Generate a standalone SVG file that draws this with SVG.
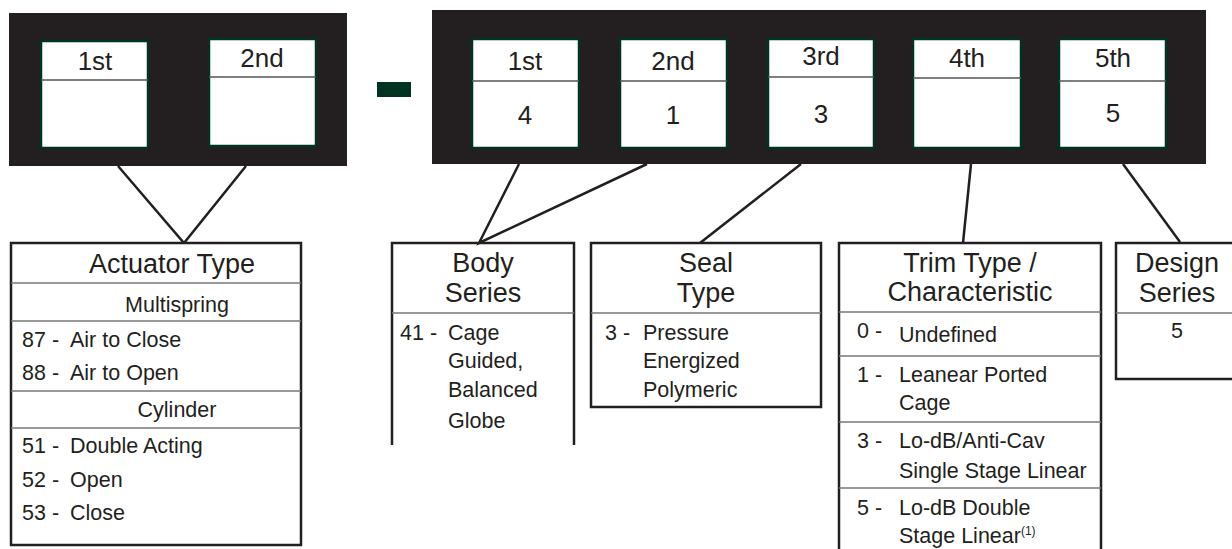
<svg xmlns="http://www.w3.org/2000/svg" width="1232" height="549" viewBox="0 0 1232 549">
<style>
.panel{fill:#231f20}
.cell{fill:#fff;stroke:#003322;stroke-width:2.5}
.div{stroke:#555;stroke-width:1.5}
.box{fill:#fff;stroke:#231f20;stroke-width:2.5}
.open{fill:none;stroke:#231f20;stroke-width:2.5}
.sep{stroke:#777;stroke-width:1.5}
.conn{stroke:#231f20;stroke-width:2.5;fill:none}
text{font-family:"Liberation Sans",Arial,sans-serif;fill:#231f20}
.lab{font-size:26px;text-anchor:middle}
.hdr{font-size:27px;text-anchor:middle}
.row{font-size:21.5px}
.mid{text-anchor:middle}
</style>
<g id="panel-left">
<rect class="panel" x="9" y="13" width="338" height="153"/>
<rect class="cell" x="41" y="41" width="107" height="107"/><line class="div" x1="41" y1="80" x2="148" y2="80"/>
<text class="lab" x="95" y="70">1st</text>
<rect class="cell" x="209" y="39" width="107" height="107"/><line class="div" x1="209" y1="77" x2="316" y2="77"/>
<text class="lab" x="262" y="67">2nd</text>
</g>
<g id="dash"><rect x="377" y="82" width="34" height="15" fill="#003322"/></g>
<g id="panel-right">
<rect class="panel" x="432" y="10" width="774" height="154"/>
<rect class="cell" x="472" y="39" width="107" height="109"/><line class="div" x1="472" y1="81" x2="579" y2="81"/>
<text class="lab" x="525" y="70">1st</text><text class="lab" x="525" y="124">4</text>
<rect class="cell" x="620" y="39" width="107" height="109"/><line class="div" x1="620" y1="81" x2="727" y2="81"/>
<text class="lab" x="673" y="70">2nd</text><text class="lab" x="673" y="124">1</text>
<rect class="cell" x="768" y="39" width="106" height="109"/><line class="div" x1="768" y1="77" x2="874" y2="77"/>
<text class="lab" x="821" y="65">3rd</text><text class="lab" x="821" y="123">3</text>
<rect class="cell" x="913" y="39" width="108" height="109"/><line class="div" x1="913" y1="78" x2="1021" y2="78"/>
<text class="lab" x="967" y="67">4th</text>
<rect class="cell" x="1059" y="39" width="107" height="109"/><line class="div" x1="1059" y1="81" x2="1166" y2="81"/>
<text class="lab" x="1113" y="67">5th</text><text class="lab" x="1113" y="122">5</text>
</g>
<g id="connectors">
<polyline class="conn" points="118,166 184,243 246,166"/>
<polyline class="conn" points="519,164 479,243 647,164"/>
<line class="conn" x1="801" y1="164" x2="700" y2="243"/>
<line class="conn" x1="971" y1="164" x2="963" y2="243"/>
<line class="conn" x1="1123" y1="164" x2="1180" y2="242"/>
</g>
<g id="actuator-type">
<rect class="box" x="11" y="243" width="290" height="302"/>
<line class="sep" x1="11" y1="283" x2="301" y2="283"/>
<line class="sep" x1="11" y1="321" x2="301" y2="321"/>
<line class="sep" x1="11" y1="391" x2="301" y2="391"/>
<line class="sep" x1="11" y1="428" x2="301" y2="428"/>
<text class="hdr" x="172" y="273">Actuator Type</text>
<text class="row mid" x="177" y="312">Multispring</text>
<text class="row" x="22" y="347">87 -</text><text class="row" x="70" y="347">Air to Close</text>
<text class="row" x="22" y="380">88 -</text><text class="row" x="70" y="380">Air to Open</text>
<text class="row mid" x="177" y="417">Cylinder</text>
<text class="row" x="22" y="453">51 -</text><text class="row" x="70" y="453">Double Acting</text>
<text class="row" x="22" y="487">52 -</text><text class="row" x="70" y="487">Open</text>
<text class="row" x="22" y="520">53 -</text><text class="row" x="70" y="520">Close</text>
</g>
<g id="body-series">
<path class="open" d="M392,445 V243 H574 V445" fill="#fff"/>
<line class="sep" x1="392" y1="313" x2="574" y2="313"/>
<text class="hdr" x="483" y="272">Body</text><text class="hdr" x="483" y="302">Series</text>
<text class="row" x="400" y="340">41 -</text><text class="row" x="448" y="340">Cage</text>
<text class="row" x="448" y="368">Guided,</text>
<text class="row" x="448" y="397">Balanced</text>
<text class="row" x="448" y="428">Globe</text>
</g>
<g id="seal-type">
<rect class="box" x="591" y="243" width="230" height="164"/>
<line class="sep" x1="591" y1="313" x2="821" y2="313"/>
<text class="hdr" x="706" y="272">Seal</text><text class="hdr" x="706" y="302">Type</text>
<text class="row" x="605" y="340">3 -</text><text class="row" x="643" y="340">Pressure</text>
<text class="row" x="643" y="368">Energized</text>
<text class="row" x="643" y="397">Polymeric</text>
</g>
<g id="trim-type">
<path class="open" d="M839,552 V243 H1101 V552" fill="#fff"/>
<line class="sep" x1="839" y1="312" x2="1101" y2="312"/>
<line class="sep" x1="839" y1="356" x2="1101" y2="356"/>
<line class="sep" x1="839" y1="422" x2="1101" y2="422"/>
<line class="sep" x1="839" y1="488" x2="1101" y2="488"/>
<text class="hdr" x="970" y="272">Trim Type /</text><text class="hdr" x="970" y="301">Characteristic</text>
<text class="row" x="857" y="338">0 -</text><text class="row" x="899" y="342">Undefined</text>
<text class="row" x="857" y="382">1 -</text><text class="row" x="899" y="382">Leanear Ported</text>
<text class="row" x="899" y="410">Cage</text>
<text class="row" x="857" y="448">3 -</text><text class="row" x="899" y="448">Lo-dB/Anti-Cav</text>
<text class="row" x="899" y="478">Single Stage Linear</text>
<text class="row" x="857" y="515">5 -</text><text class="row" x="899" y="515">Lo-dB Double</text>
<text class="row" x="899" y="543">Stage Linear<tspan font-size="12" dy="-8">(1)</tspan></text>
</g>
<g id="design-series">
<path class="open" d="M1236,243 H1116 V379 H1236" fill="#fff"/>
<line class="sep" x1="1116" y1="313" x2="1232" y2="313"/>
<text class="hdr" x="1177" y="272">Design</text><text class="hdr" x="1177" y="302">Series</text>
<text class="row mid" x="1177" y="338">5</text>
</g>
</svg>
